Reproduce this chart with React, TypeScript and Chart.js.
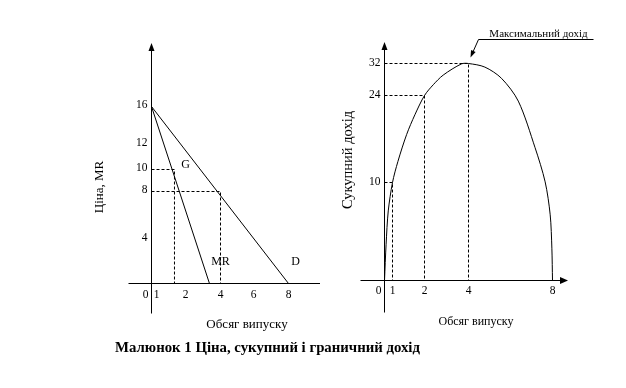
import React, { useEffect, useRef } from 'react';
import { Chart, LineController, LineElement, PointElement, LinearScale } from 'chart.js';

const SERIF = "'Liberation Serif', 'Times New Roman', serif";

// ---------- Left chart: price (demand D) and marginal revenue (MR) ----------
const LEFT_Q_TICKS = [0, 1, 2, 4, 6, 8];
const LEFT_P_TICKS = [0, 4, 8, 10, 12, 16];
const DEMAND_Q = [0, 8];
const DEMAND_P = [16, 0];
const MR_Q = [0, 3.37];
const MR_P = [16, 0];
const GUIDE_G_Q = [0, 1.62, 1.62];
const GUIDE_G_P = [10, 10, 0];
const GUIDE_D_Q = [0, 4, 4];
const GUIDE_D_P = [8, 8, 0];
const LEFT_LABELS = ['G', 'MR', 'D'];
const LEFT_LABEL_Q = [2, 4, 8.41];
const LEFT_LABEL_P = [10.36, 1.95, 1.95];

// ---------- Right chart: total revenue ----------
const RIGHT_Q_TICKS = [0, 1, 2, 4, 8];
const RIGHT_R_TICKS = [0, 10, 24, 32];
const TR_Q = [0, 0.2, 0.47, 1, 1.17, 1.44, 1.7, 2, 2.4, 2.85, 3.68, 4, 4.78, 5.57, 6.37, 7.17, 7.65, 7.89, 7.97, 8];
const TR_R = [0, 3.7, 7.1, 10, 13.4, 17.7, 20.9, 24, 26.7, 29.1, 31.9, 32, 31.1, 28.3, 23.1, 15.6, 10.1, 6.7, 3.3, 0];
const TR_GUIDE_Q = [1, 2, 4];
const TR_GUIDE_R = [10, 24, 32];
const PEAK_TEXT = 'Максимальний дохід';
const PEAK_Q = 4;
const PEAK_R = 32;

const CAPTION = 'Малюнок 1 Ціна, сукупний і граничний дохід';

// Hand-drawn, non-uniform axis layouts: distance (px) of each tick from the origin.
const AXIS_LAYOUT: Record<string, { values: number[]; offsets: number[] }> = {
  leftQ: { values: LEFT_Q_TICKS, offsets: [0, 5, 34, 69, 102, 137] },
  leftP: { values: LEFT_P_TICKS, offsets: [0, 44, 92, 114, 139, 177] },
  rightQ: { values: RIGHT_Q_TICKS, offsets: [0, 8, 40, 84, 168] },
  rightR: { values: RIGHT_R_TICKS, offsets: [0, 98, 185, 217] },
};

class SchematicScale extends LinearScale {
  static id = 'schematic';
  static defaults = {};
  _layout() {
    const key = (this.options as any).layoutKey;
    return AXIS_LAYOUT[key];
  }
  getPixelForValue(value: number) {
    const { values, offsets } = this._layout();
    let i = 1;
    while (i < values.length - 1 && value > values[i]) i++;
    const v0 = values[i - 1], v1 = values[i];
    const p0 = offsets[i - 1], p1 = offsets[i];
    const off = p0 + ((value - v0) / (v1 - v0)) * (p1 - p0);
    return this.getPixelForDecimal(off / (this as any)._length);
  }
  getValueForPixel(pixel: number) {
    const { values, offsets } = this._layout();
    const off = this.getDecimalForPixel(pixel) * (this as any)._length;
    let i = 1;
    while (i < offsets.length - 1 && off > offsets[i]) i++;
    const v0 = values[i - 1], v1 = values[i];
    const p0 = offsets[i - 1], p1 = offsets[i];
    return v0 + ((off - p0) / (p1 - p0)) * (v1 - v0);
  }
}

Chart.register(LineController, LineElement, PointElement, LinearScale, SchematicScale);

const schematicPlugin = {
  id: 'schematic',
  afterDraw(chart: any, _args: any, o: any) {
    const ctx = chart.ctx as CanvasRenderingContext2D;
    const xs = chart.scales.x;
    const ys = chart.scales.y;
    const area = chart.chartArea;
    const ox = xs.getPixelForValue(0);
    const oy = ys.getPixelForValue(0);
    ctx.save();
    ctx.strokeStyle = '#000';
    ctx.fillStyle = '#000';
    ctx.lineWidth = 1;
    ctx.setLineDash([]);

    // x axis
    ctx.beginPath();
    ctx.moveTo(ox - o.xOverhang, oy);
    ctx.lineTo(o.xArrow ? area.right - 6 : area.right, oy);
    ctx.stroke();
    if (o.xArrow) {
      ctx.beginPath();
      ctx.moveTo(area.right, oy);
      ctx.lineTo(area.right - 8, oy - 3.5);
      ctx.lineTo(area.right - 8, oy + 3.5);
      ctx.closePath();
      ctx.fill();
    }
    // y axis
    ctx.beginPath();
    ctx.moveTo(ox, oy + o.yOverhang);
    ctx.lineTo(ox, area.top + 6);
    ctx.stroke();
    ctx.beginPath();
    ctx.moveTo(ox, area.top);
    ctx.lineTo(ox - 3, area.top + 8);
    ctx.lineTo(ox + 3, area.top + 8);
    ctx.closePath();
    ctx.fill();

    // tick labels
    ctx.font = `11.5px ${SERIF}`;
    ctx.textBaseline = 'middle';
    ctx.textAlign = 'right';
    for (const v of o.yTicks) {
      if (v === 0) continue;
      ctx.fillText(String(v), ox - 4, ys.getPixelForValue(v) + o.yLabelDy);
    }
    ctx.fillText('0', ox - 3, oy + o.xLabelDy);
    ctx.textAlign = 'center';
    for (const v of o.xTicks) {
      if (v === 0) continue;
      ctx.fillText(String(v), xs.getPixelForValue(v), oy + o.xLabelDy);
    }

    // axis titles
    ctx.font = `${o.xTitleSize}px ${SERIF}`;
    ctx.fillText(o.xTitle, ox + o.xTitleDx, oy + o.xTitleDy);
    ctx.save();
    ctx.translate(ox + o.yTitleDx, oy - o.yTitleDy);
    ctx.rotate(-Math.PI / 2);
    ctx.font = `${o.yTitleSize}px ${SERIF}`;
    ctx.fillText(o.yTitle, 0, 0);
    ctx.restore();

    // curve labels
    if (o.labels) {
      ctx.font = `12px ${SERIF}`;
      o.labels.forEach((t: string, i: number) => {
        ctx.fillText(t, xs.getPixelForValue(o.labelQ[i]), ys.getPixelForValue(o.labelV[i]));
      });
    }

    // callout
    if (o.callout) {
      const px = xs.getPixelForValue(o.callout.q);
      const py = ys.getPixelForValue(o.callout.v);
      const tip = { x: px + 2, y: py - 6 };
      const elbow = { x: px + 10, y: py - 24 };
      const len = Math.hypot(tip.x - elbow.x, tip.y - elbow.y);
      const d = { x: (tip.x - elbow.x) / len, y: (tip.y - elbow.y) / len };
      const n = { x: -d.y, y: d.x };
      ctx.beginPath();
      ctx.moveTo(elbow.x + 115, elbow.y);
      ctx.lineTo(elbow.x, elbow.y);
      ctx.lineTo(tip.x - d.x * 5, tip.y - d.y * 5);
      ctx.stroke();
      ctx.beginPath();
      ctx.moveTo(tip.x, tip.y);
      ctx.lineTo(tip.x - d.x * 7 + n.x * 2.5, tip.y - d.y * 7 + n.y * 2.5);
      ctx.lineTo(tip.x - d.x * 7 - n.x * 2.5, tip.y - d.y * 7 - n.y * 2.5);
      ctx.closePath();
      ctx.fill();
      ctx.font = `11px ${SERIF}`;
      ctx.textBaseline = 'alphabetic';
      ctx.textAlign = 'center';
      ctx.fillText(o.callout.text, elbow.x + 60, elbow.y - 2.5);
    }
    ctx.restore();
  },
};

function series(qs: number[], vs: number[], dashed: boolean, tension = 0) {
  return {
    data: qs.map((q, i) => ({ x: q, y: vs[i] })),
    borderColor: '#000',
    borderWidth: 1,
    pointRadius: 0,
    borderDash: dashed ? [3, 2] : [],
    tension,
    fill: false,
  };
}

function baseOptions(padding: any, xKey: string, yKey: string, plugin: any) {
  return {
    responsive: false,
    animation: false,
    devicePixelRatio: 1,
    events: [],
    layout: { autoPadding: false, padding },
    scales: {
      x: { type: 'schematic', layoutKey: xKey, display: false },
      y: { type: 'schematic', layoutKey: yKey, display: false },
    },
    plugins: { schematic: plugin },
  };
}

export default function App() {
  const leftRef = useRef<HTMLCanvasElement>(null);
  const rightRef = useRef<HTMLCanvasElement>(null);

  useEffect(() => {
    const left = new Chart(leftRef.current!, {
      type: 'line',
      data: {
        datasets: [
          series(GUIDE_G_Q, GUIDE_G_P, true),
          series(GUIDE_D_Q, GUIDE_D_P, true),
          series(DEMAND_Q, DEMAND_P, false),
          series(MR_Q, MR_P, false),
        ],
      },
      options: baseOptions({ left: 151.5, right: 306, top: 43, bottom: 104.5 }, 'leftQ', 'leftP', {
        xTicks: LEFT_Q_TICKS,
        yTicks: LEFT_P_TICKS,
        xOverhang: 23,
        yOverhang: 30,
        xArrow: false,
        xLabelDy: 11,
        yLabelDy: -2,
        xTitle: 'Обсяг випуску',
        xTitleSize: 13,
        xTitleDx: 95.5,
        xTitleDy: 41.5,
        yTitle: 'Ціна, MR',
        yTitleSize: 13,
        yTitleDx: -51.5,
        yTitleDy: 96.5,
        labels: LEFT_LABELS,
        labelQ: LEFT_LABEL_Q,
        labelV: LEFT_LABEL_P,
      }) as any,
      plugins: [schematicPlugin],
    });

    const right = new Chart(rightRef.current!, {
      type: 'line',
      data: {
        datasets: [
          ...TR_GUIDE_Q.map((q, i) => series([0, q, q], [TR_GUIDE_R[i], TR_GUIDE_R[i], 0], true)),
          series(TR_Q, TR_R, false, 0.3),
        ],
      },
      options: baseOptions({ left: 384.5, right: 58, top: 42, bottom: 107.5 }, 'rightQ', 'rightR', {
        xTicks: RIGHT_Q_TICKS,
        yTicks: RIGHT_R_TICKS,
        xOverhang: 24,
        yOverhang: 32,
        xArrow: true,
        xLabelDy: 10.5,
        yLabelDy: -1,
        xTitle: 'Обсяг випуску',
        xTitleSize: 12,
        xTitleDx: 91.5,
        xTitleDy: 41.5,
        yTitle: 'Сукупний дохід',
        yTitleSize: 14.5,
        yTitleDx: -36.5,
        yTitleDy: 120.5,
        callout: { text: PEAK_TEXT, q: PEAK_Q, v: PEAK_R },
      }) as any,
      plugins: [schematicPlugin],
    });

    return () => {
      left.destroy();
      right.destroy();
    };
  }, []);

  const canvasStyle: React.CSSProperties = { position: 'absolute', left: 0, top: 0 };
  return (
    <div style={{ position: 'absolute', left: 0, top: 0, width: 626, height: 388, background: '#fff' }}>
      <canvas ref={leftRef} width={626} height={388} style={canvasStyle} />
      <canvas ref={rightRef} width={626} height={388} style={canvasStyle} />
      <div
        style={{
          position: 'absolute',
          left: 0,
          top: 338,
          width: 535,
          textAlign: 'center',
          whiteSpace: 'nowrap',
          fontFamily: SERIF,
          fontWeight: 'bold',
          fontSize: 14.8,
          lineHeight: '18px',
          color: '#000',
        }}
      >
        {CAPTION}
      </div>
    </div>
  );
}
